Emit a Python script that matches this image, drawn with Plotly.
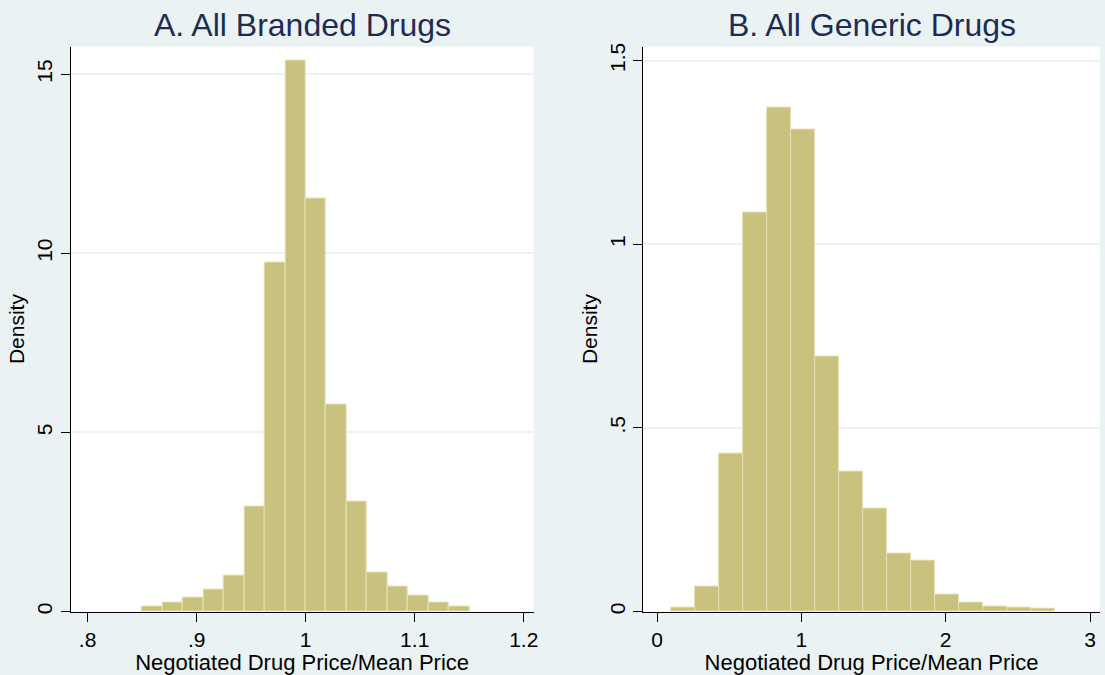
import plotly.graph_objects as go

# ---- data ----
branded_bin_start = 0.85
branded_bin_width = 0.01875
branded_density = [0.13, 0.25, 0.40, 0.63, 1.01, 2.93, 9.74, 15.37,
                   11.54, 5.78, 3.06, 1.09, 0.71, 0.45, 0.24, 0.13]

generic_bin_start = 0.0966
generic_bin_width = 0.1664
generic_density = [0.011, 0.069, 0.43, 1.085, 1.373, 1.312, 0.693, 0.38,
                   0.28, 0.159, 0.139, 0.047, 0.026, 0.013, 0.011, 0.008]

branded_xticks = [0.8, 0.9, 1.0, 1.1, 1.2]
branded_xticklabels = [".8", ".9", "1", "1.1", "1.2"]
branded_yticks = [0, 5, 10, 15]
branded_yticklabels = ["0", "5", "10", "15"]

generic_xticks = [0, 1, 2, 3]
generic_xticklabels = ["0", "1", "2", "3"]
generic_yticks = [0, 0.5, 1.0, 1.5]
generic_yticklabels = ["0", ".5", "1", "1.5"]

titles = ["A. All Branded Drugs", "B. All Generic Drugs"]
x_title = "Negotiated Drug Price/Mean Price"
y_title = "Density"

# ---- style ----
W, H = 1105, 675
BG = "#EAF2F3"
BAR = "#C8C27E"
BAR_LINE = "#E6E2B4"
GRID = "#EAF2F3"
TITLE_COLOR = "#1E2C54"
FONT = "Liberation Sans, Arial, sans-serif"

def centers(start, width, n):
    return [start + width * (i + 0.5) for i in range(n)]

fig = go.Figure()
fig.add_trace(go.Bar(
    x=centers(branded_bin_start, branded_bin_width, len(branded_density)),
    y=branded_density, width=branded_bin_width,
    marker=dict(color=BAR, line=dict(color=BAR_LINE, width=1)),
    xaxis="x", yaxis="y", showlegend=False, hoverinfo="x+y"))
fig.add_trace(go.Bar(
    x=centers(generic_bin_start, generic_bin_width, len(generic_density)),
    y=generic_density, width=generic_bin_width,
    marker=dict(color=BAR, line=dict(color=BAR_LINE, width=1)),
    xaxis="x2", yaxis="y2", showlegend=False, hoverinfo="x+y"))

ydom = [(H - 614) / H, (H - 43) / H]
xdom1 = [71 / W, 536 / W]
xdom2 = [646 / W, 1.0]

def xaxis(dom, rng, tv, tt, anchor):
    return dict(domain=dom, range=rng, tickvals=tv, ticktext=tt, anchor=anchor,
                showline=True, linecolor="black", linewidth=1.2, ticks="outside",
                ticklen=9, tickcolor="black", tickwidth=1.2, showgrid=False,
                zeroline=False, ticklabelstandoff=0,
                tickfont=dict(size=21, color="black", family=FONT),
                title=dict(text=x_title, standoff=5,
                           font=dict(size=22, color="black", family=FONT)))

def yaxis(dom, rng, tv, tt, anchor):
    return dict(domain=dom, range=rng, tickvals=tv, ticktext=tt, anchor=anchor,
                showline=True, linecolor="black", linewidth=1.2, ticks="outside",
                ticklen=9, tickcolor="black", tickwidth=1.2, showgrid=True,
                gridcolor=GRID, gridwidth=1.5, zeroline=False, tickangle=-90,
                ticklabelstandoff=0,
                tickfont=dict(size=21, color="black", family=FONT),
                title=dict(text=y_title, standoff=2,
                           font=dict(size=21, color="black", family=FONT)))

fig.update_layout(
    width=W, height=H, paper_bgcolor=BG, plot_bgcolor="white",
    margin=dict(l=0, r=0, t=0, b=0), bargap=0, showlegend=False,
    font=dict(family=FONT, color="black"),
    xaxis=xaxis(xdom1, [0.7845, 1.209], branded_xticks, branded_xticklabels, "y"),
    yaxis=yaxis(ydom, [0, 15.77], branded_yticks, branded_yticklabels, "x"),
    xaxis2=xaxis(xdom2, [-0.0966, 3.069], generic_xticks, generic_xticklabels, "y2"),
    yaxis2=yaxis(ydom, [0, 1.538], generic_yticks, generic_yticklabels, "x2"),
)

for dom, t in zip([xdom1, xdom2], titles):
    fig.add_annotation(text=t, x=(dom[0] + dom[1]) / 2, y=(H - 21) / H,
                       xref="paper", yref="paper", showarrow=False,
                       xanchor="center", yanchor="middle",
                       font=dict(size=32, color=TITLE_COLOR, family=FONT))

fig.write_html(
    "out.html",
    config={"displayModeBar": False},
    post_script="document.body.style.margin='0';document.body.style.padding='0';"
                "document.documentElement.style.overflow='hidden';")
